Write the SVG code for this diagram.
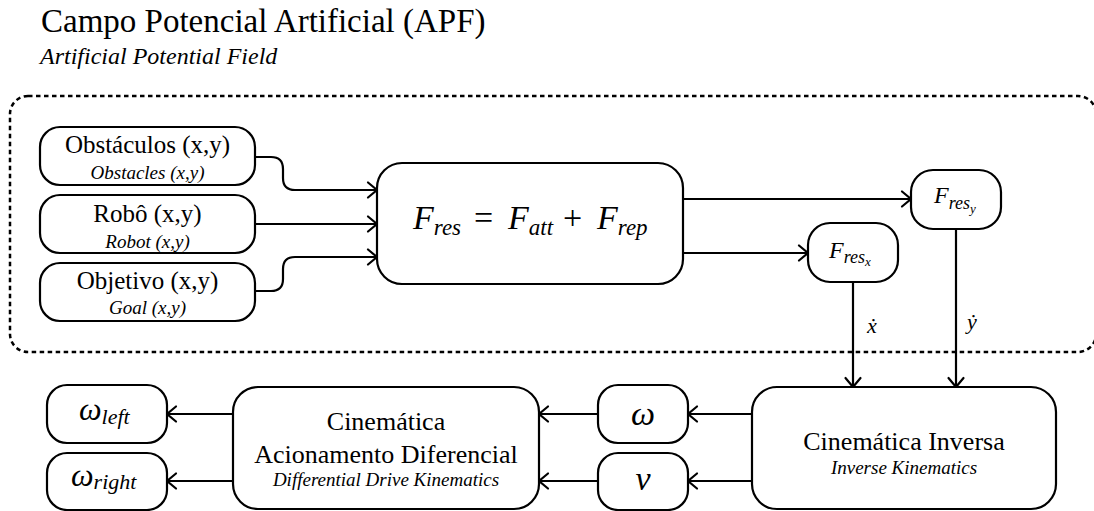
<svg xmlns="http://www.w3.org/2000/svg" width="1094" height="511" viewBox="0 0 1094 511">
  <style>
    .node rect { fill: #fff; stroke: #000; stroke-width: 2.2; }
    .t { font-family: "Liberation Serif", "DejaVu Serif", serif; fill: #000; text-anchor: middle; }
    .main { font-size: 25px; }
    .big { font-size: 26px; }
    .sub { font-size: 19px; font-style: italic; }
    .m { font-family: "Liberation Serif", "DejaVu Serif", serif; font-style: italic; fill: #000; }
    .up { font-style: normal; }
    .wire { fill: none; stroke: #000; stroke-width: 2.2; }
    .frame { fill: none; stroke: #000; stroke-width: 2.5; stroke-dasharray: 4.5 3.5; }
  </style>
  <defs>
    <marker id="arrow" markerUnits="userSpaceOnUse" markerWidth="14" markerHeight="20" viewBox="-11 -10 13 20" refX="0" refY="0" orient="auto">
      <path d="M -9 -7.5 L 0 0 L -9 7.5" fill="none" stroke="#000" stroke-width="2.2" stroke-linecap="round" stroke-linejoin="miter"/>
    </marker>
  </defs>

  <!-- heading -->
  <text x="41" y="32" class="t" style="text-anchor:start;font-size:33px">Campo Potencial Artificial (APF)</text>
  <text x="40" y="64" class="t" style="text-anchor:start;font-size:24px;font-style:italic">Artificial Potential Field</text>

  <!-- APF boundary (right side runs just past the canvas edge) -->
  <rect class="frame" x="10" y="96" width="1086" height="256" rx="18" ry="18"/>

  <!-- connectors -->
  <g id="connectors">
    <path class="wire" d="M255,157 H271 Q283,157 283,169 V178 Q283,190 295,190 H377" marker-end="url(#arrow)"/>
    <path class="wire" d="M255,224 H377" marker-end="url(#arrow)"/>
    <path class="wire" d="M255,291 H271 Q283,291 283,279 V269 Q283,257 295,257 H377" marker-end="url(#arrow)"/>
    <path class="wire" d="M683,199 H911" marker-end="url(#arrow)"/>
    <path class="wire" d="M683,253 H808" marker-end="url(#arrow)"/>
    <path class="wire" d="M853,282 V387" marker-end="url(#arrow)"/>
    <path class="wire" d="M956,229 V387" marker-end="url(#arrow)"/>
    <path class="wire" d="M752,414 H688" marker-end="url(#arrow)"/>
    <path class="wire" d="M752,481 H688" marker-end="url(#arrow)"/>
    <path class="wire" d="M598,414 H539" marker-end="url(#arrow)"/>
    <path class="wire" d="M598,481 H539" marker-end="url(#arrow)"/>
    <path class="wire" d="M233,414 H167" marker-end="url(#arrow)"/>
    <path class="wire" d="M233,481 H167" marker-end="url(#arrow)"/>
    <text class="m" x="872" y="333" style="font-size:22px;text-anchor:middle">ẋ</text>
    <text class="m" x="972" y="329" style="font-size:22px;text-anchor:middle">ẏ</text>
  </g>

  <!-- inputs -->
  <g id="obstacles" class="node">
    <rect x="40" y="127" width="215" height="58" rx="20"/>
    <text class="t main" x="147.5" y="153">Obstáculos (x,y)</text>
    <text class="t sub" x="147.5" y="179">Obstacles (x,y)</text>
  </g>
  <g id="robot" class="node">
    <rect x="40" y="195" width="215" height="58" rx="20"/>
    <text class="t main" x="147.5" y="222">Robô (x,y)</text>
    <text class="t sub" x="147.5" y="248">Robot (x,y)</text>
  </g>
  <g id="goal" class="node">
    <rect x="40" y="263" width="215" height="58" rx="20"/>
    <text class="t main" x="147.5" y="289">Objetivo (x,y)</text>
    <text class="t sub" x="147.5" y="314">Goal (x,y)</text>
  </g>

  <!-- resultant force -->
  <g id="resultant" class="node">
    <rect x="377" y="163" width="306" height="121" rx="25"/>
    <text class="m" y="229" style="font-size:34px"><tspan x="413">F</tspan><tspan dy="6" style="font-size:23px">res</tspan><tspan class="up" x="474" dy="-6">=</tspan><tspan x="508">F</tspan><tspan dy="6" style="font-size:23px">att</tspan><tspan class="up" x="563" dy="-6">+</tspan><tspan x="597">F</tspan><tspan dy="6" style="font-size:23px">rep</tspan></text>
  </g>

  <g id="fres-y" class="node">
    <rect x="911" y="170" width="90" height="59" rx="22"/>
    <text class="m" y="203" style="font-size:24px"><tspan x="934">F</tspan><tspan dy="6" style="font-size:18px">res</tspan><tspan dy="4" style="font-size:13px">y</tspan></text>
  </g>
  <g id="fres-x" class="node">
    <rect x="808" y="223" width="90" height="59" rx="22"/>
    <text class="m" y="258" style="font-size:24px"><tspan x="829">F</tspan><tspan dy="5" style="font-size:18px">res</tspan><tspan dy="3" style="font-size:13px">x</tspan></text>
  </g>

  <!-- kinematics -->
  <g id="inverse-kinematics" class="node">
    <rect x="752" y="387" width="304" height="122" rx="25"/>
    <text class="t big" x="904" y="450">Cinemática Inversa</text>
    <text class="t sub" x="904" y="474">Inverse Kinematics</text>
  </g>
  <g id="omega" class="node">
    <rect x="598" y="385" width="90" height="58" rx="20"/>
    <text class="m" x="643" y="425" style="font-size:34px;text-anchor:middle">ω</text>
  </g>
  <g id="v" class="node">
    <rect x="598" y="453" width="90" height="57" rx="20"/>
    <text class="m" x="643" y="490" style="font-size:34px;text-anchor:middle">v</text>
  </g>
  <g id="diff-drive" class="node">
    <rect x="233" y="387" width="306" height="122" rx="25"/>
    <text class="t big" x="386" y="430">Cinemática</text>
    <text class="t big" x="386" y="463">Acionamento Diferencial</text>
    <text class="t sub" x="386" y="486">Differential Drive Kinematics</text>
  </g>
  <g id="omega-left" class="node">
    <rect x="47" y="385" width="120" height="58" rx="20"/>
    <text class="m" y="420" style="font-size:32px"><tspan x="79">ω</tspan><tspan dy="4" style="font-size:22px">left</tspan></text>
  </g>
  <g id="omega-right" class="node">
    <rect x="47" y="453" width="120" height="57" rx="20"/>
    <text class="m" y="486" style="font-size:32px"><tspan x="71">ω</tspan><tspan dy="3" style="font-size:22px">right</tspan></text>
  </g>
</svg>
